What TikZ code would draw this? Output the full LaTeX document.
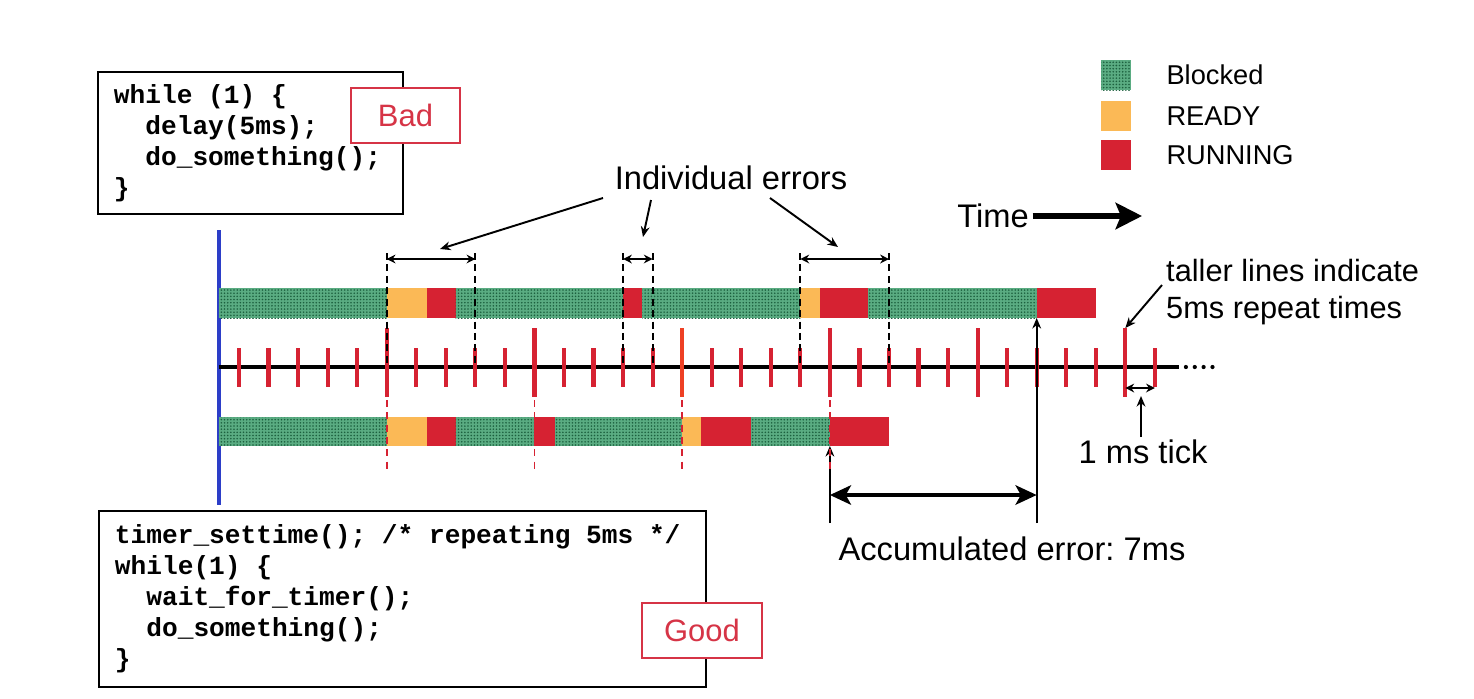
\documentclass[tikz,border=0pt]{standalone}
\usepackage{fontspec}
\setmainfont{Liberation Sans}
\setmonofont{Liberation Mono}
\usepackage{tikz}
\usetikzlibrary{arrows.meta,positioning,patterns.meta}

\definecolor{runred}{RGB}{214,34,50}
\definecolor{rdyyel}{RGB}{251,185,86}
\definecolor{blkgreen}{RGB}{90,172,130}
\definecolor{blkdot}{RGB}{28,96,62}
\definecolor{startblue}{RGB}{44,62,200}
\definecolor{tagred}{RGB}{214,52,70}
\definecolor{fiveorange}{RGB}{238,64,36}

\newcommand{\codeind}{\hspace*{1.2em}}
\newcommand{\csp}{\hspace*{0.6em}}

\tikzset{
  stblocked/.style={preaction={fill=blkgreen},pattern={Dots[distance=1.8pt,radius=0.5pt]},pattern color=blkdot},
  stready/.style={fill=rdyyel},
  strunning/.style={fill=runred},
  codebox/.style={draw,line width=1.1pt,align=left,inner xsep=0.32cm,font=\ttfamily\bfseries\fontsize{14.9}{17.7}\selectfont},
  verdict/.style={draw=tagred,text=tagred,fill=white,line width=1pt,minimum height=1.1cm,font=\fontsize{17.6}{20}\selectfont},
  keybox/.style={minimum size=0.6cm,inner sep=0pt},
  keytext/.style={font=\fontsize{15.5}{18}\selectfont},
  mstick/.style={runred,line width=2.4pt},
  errcut/.style={dash pattern=on 4pt off 2.5pt,line width=1.1pt},
  redcut/.style={runred,dash pattern=on 4pt off 3pt,line width=1pt},
  pointer/.style={-{Stealth[length=6pt,width=5pt]},line width=1.1pt},
  errspan/.style={{Stealth[length=5pt,width=5pt]}-{Stealth[length=5pt,width=5pt]},line width=1.1pt},
  accspan/.style={{Stealth[length=12pt,width=11pt,inset=3pt]}-{Stealth[length=12pt,width=11pt,inset=3pt]},line width=2.4pt},
  timearrow/.style={-{Stealth[length=15pt,width=15pt,inset=3pt]},line width=3.4pt}
}

\begin{document}
\frenchspacing
\begin{tikzpicture}[x=0.02cm,y=-0.02cm,every node/.style={font=\fontsize{18.6}{22}\selectfont}]
\useasboundingbox (0,0) rectangle (1474,698);

% the two programs
\node[codebox,anchor=north west,text width=5.46cm,minimum height=2.84cm] (badcode) at (97,71)
  {while\csp(1)\csp\{\\\codeind delay(5ms);\\\codeind do\_something();\\\}};
\node[codebox,anchor=north west,text width=11.5cm,minimum height=3.52cm] (goodcode) at (98,510)
  {timer\_settime();\csp/*\csp repeating\csp 5ms\csp*/\\while(1)\csp\{\\\codeind wait\_for\_timer();\\\codeind do\_something();\\\}};
\node[verdict,minimum width=2.18cm] (bad) at (405.5,115.5) {Bad};
\node[verdict,minimum width=2.4cm] (good) at (702,630.5) {Good};

% legend
\node[keybox,stblocked] (blkkey) at (1116,75) {};
\node[keybox,stready,below=0.2cm of blkkey] (rdykey) {};
\node[keybox,strunning,below=0.18cm of rdykey] (runkey) {};
\node[keytext,anchor=west,right=0.58cm of blkkey] (blklab) {Blocked};
\node[keytext,anchor=west,right=0.58cm of rdykey] (rdylab) {READY};
\node[keytext,anchor=west,right=0.58cm of runkey] (runlab) {RUNNING};

\draw[line width=2.5pt,startblue] (219,230) -- (219,505);

\begin{scope}[shift={(239,0)},x=0.591cm]
% delay() run
\foreach \a/\b/\s in {-0.68/5/stblocked,5/6.35/stready,6.35/7.33/strunning,7.33/13/stblocked,13/13.65/strunning,
    13.65/19/stblocked,19/19.65/stready,19.65/21.3/strunning,21.3/27/stblocked,27/29/strunning}
  \path[\s] (\a,288) rectangle (\b,318);
% timer run
\foreach \a/\b/\s in {-0.68/5/stblocked,5/6.35/stready,6.35/7.33/strunning,7.33/10/stblocked,10/10.68/strunning,
    10.68/15/stblocked,15/15.64/stready,15.64/17.33/strunning,17.33/20/stblocked,20/22/strunning}
  \path[\s] (\a,417) rectangle (\b,446);

% time axis
\draw[line width=2.6pt] (-0.68,367) -- (31.8,367);
\foreach \d in {0,1,2,3} \fill ({32.05+0.3*\d},367) circle (1.2pt);
\foreach \t in {0,...,31} \draw[mstick] (\t,348) -- (\t,387);
\foreach \t in {5,10,20,25,30} \draw[mstick] (\t,328) -- (\t,397);
\draw[mstick,fiveorange] (15,328) -- (15,397);

% individual errors
\foreach \t in {5,8,13,14,19,22} \draw[errcut] (\t,253) -- (\t,367);
\coordinate (e1a) at (5,259); \coordinate (e1b) at (8,259);
\coordinate (e2a) at (13,259); \coordinate (e2b) at (14,259);
\coordinate (e3a) at (19,259); \coordinate (e3b) at (22,259);
\draw[errspan] (e1a) -- (e1b);
\draw[errspan] (e2a) -- (e2b);
\draw[errspan] (e3a) -- (e3b);

% accumulated error
\coordinate (accLtop) at (20,446); \coordinate (accLbot) at (20,523);
\coordinate (accRtop) at (27,318); \coordinate (accRbot) at (27,523);
\coordinate (accL) at (20,495); \coordinate (accR) at (27,495);
\draw[pointer] (accLbot) -- (accLtop);
\draw[pointer] (accRbot) -- (accRtop);
\draw[accspan] (accL) -- (accR);
\foreach \t in {5,10,15,20} \draw[redcut] (\t,400) -- (\t,473);

% tick width
\coordinate (tallto) at (30,328);
\coordinate (tk1) at (30,388); \coordinate (tk2) at (31,388);
\draw[errspan] (tk1) -- (tk2);
\end{scope}

\node (errlabel) at (731,178) {Individual errors};
\coordinate (e1from) at (603,198); \coordinate (e1to) at (440,249);
\coordinate (e2from) at (651,200); \coordinate (e2to) at (643,237);
\coordinate (e3from) at (770,198); \coordinate (e3to) at (838,247);
\draw[pointer] (e1from) -- (e1to);
\draw[pointer] (e2from) -- (e2to);
\draw[pointer] (e3from) -- (e3to);

\node[inner xsep=2pt] (timelabel) at (993,216) {Time};
\coordinate (timeend) at (1142,216);
\draw[timearrow] (timelabel.east) -- (timeend);

\node[anchor=west,align=left,font=\fontsize{17.5}{21.3}\selectfont] (tallnote) at (1160,292) {taller lines indicate\\5ms repeat times};
\coordinate (tallfrom) at (1162,285);
\draw[pointer] (tallfrom) -- (tallto);

\node (ticknote) at (1143,452) {1 ms tick};
\coordinate (tickfrom) at (1141,437); \coordinate (tickto) at (1141,396);
\draw[pointer] (tickfrom) -- (tickto);

\node (accnote) at (1012,549) {Accumulated error: 7ms};
\end{tikzpicture}
\end{document}
